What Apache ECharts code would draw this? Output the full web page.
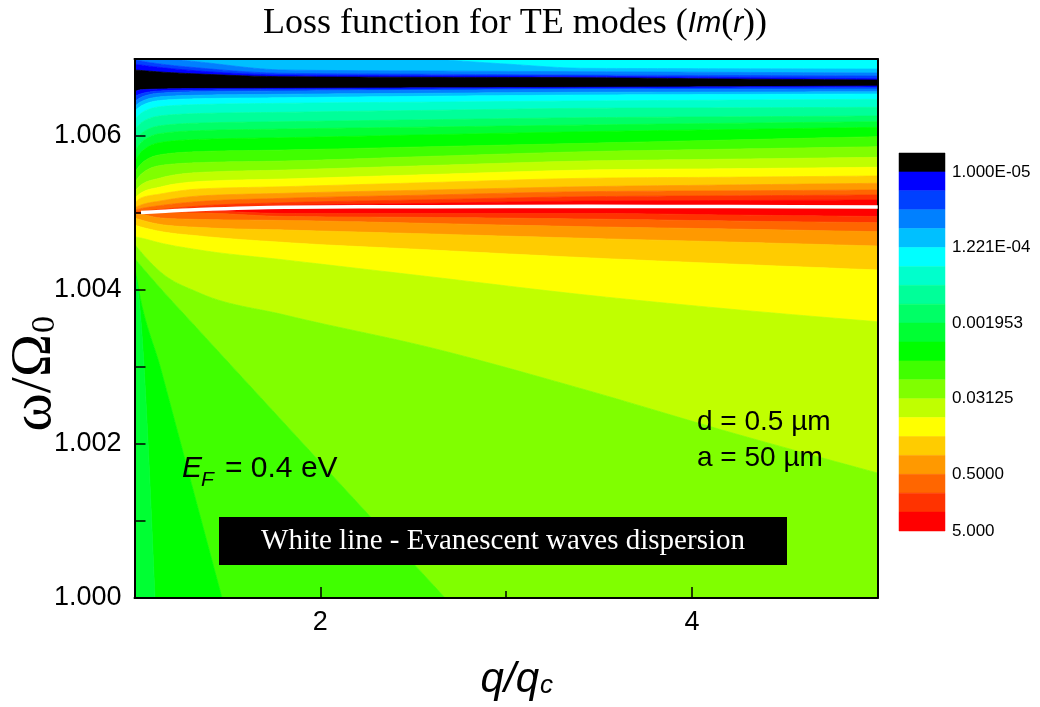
<!DOCTYPE html>
<html>
<head>
<meta charset="utf-8">
<title>Loss function for TE modes</title>
<script src="https://cdn.jsdelivr.net/npm/echarts@6.0.0/dist/echarts.min.js"></script>
<style>
  html, body { margin: 0; padding: 0; background: #ffffff; }
  #chart { width: 1040px; height: 707px; }
</style>
</head>
<body>
<div id="chart"></div>
<script>
// ---------------------------------------------------------------------
// Data
// ---------------------------------------------------------------------

// q/qc columns at which the contour boundaries are tabulated
const qCols = [1.0, 1.035, 1.14, 1.35, 1.81, 2.6, 3.43, 4.2, 5.0];

// contour fill colours, lowest level (top of the colour scale) to highest
const levelColors = [
  '#000000', '#0000ff', '#0040ff', '#0080ff', '#00c0ff',
  '#00ffff', '#00ffcc', '#00ff99', '#00ff66', '#00ff33',
  '#00ff00', '#40ff00', '#80ff00', '#c0ff00', '#ffff00',
  '#ffcc00', '#ff9900', '#ff6600', '#ff3300', '#ff0000'
];

// colour-scale labels and the level boundary each one sits on
const scaleLabelIndex = [1, 5, 9, 13, 17, 20];
const scaleLabels = ['1.000E-05', '1.221E-04', '0.001953', '0.03125', '0.5000', '5.000'];

// axis tick labels
const qTicks = [2, 4];
const qMinorTicks = [3];
const omegaTicks = [1.000, 1.002, 1.004, 1.006];

// contour boundaries above the black band, top to bottom
// (partial ones are [q, ω] polylines that start on the top frame)
const capT4 = [[2.6, 1.007], [3.0, 1.006935], [3.43, 1.006879], [4.2, 1.006874], [5.0, 1.006870]];
const capT3 = [[1.197, 1.007], [1.35, 1.006961], [1.81, 1.006857], [2.6, 1.006844], [3.43, 1.006835], [4.2, 1.006827], [5.0, 1.006818]];
const capT2 = [1.006994, 1.006974, 1.006935, 1.006883, 1.006814, 1.006803, 1.006792, 1.006786, 1.006779];
const capT1 = [1.006935, 1.006922, 1.006890, 1.006844, 1.006792, 1.006782, 1.006775, 1.006760, 1.006744];
const capT0 = [1.006857, 1.006851, 1.006831, 1.006805, 1.006770, 1.006762, 1.006757, 1.006740, 1.006727];

// contour boundaries between the black band and the dispersion line (ω at qCols), top to bottom
const upperContours = [
  [1.006575, 1.006601, 1.006610, 1.006617, 1.006619, 1.006626, 1.006632, 1.006640, 1.006649],
  [1.006510, 1.006548, 1.006586, 1.006597, 1.006604, 1.006612, 1.006619, 1.006625, 1.006630],
  [1.006445, 1.006501, 1.006557, 1.006575, 1.006584, 1.006595, 1.006606, 1.006608, 1.006610],
  [1.006381, 1.006445, 1.006509, 1.006530, 1.006542, 1.006555, 1.006568, 1.006571, 1.006575],
  [1.006316, 1.006388, 1.006461, 1.006484, 1.006497, 1.006516, 1.006532, 1.006539, 1.006545],
  [1.006208, 1.006295, 1.006382, 1.006409, 1.006425, 1.006440, 1.006455, 1.006466, 1.006477],
  [1.006078, 1.006170, 1.006262, 1.006292, 1.006308, 1.006334, 1.006360, 1.006366, 1.006373],
  [1.005926, 1.006030, 1.006134, 1.006168, 1.006186, 1.006212, 1.006238, 1.006249, 1.006260],
  [1.005796, 1.005914, 1.006032, 1.006070, 1.006091, 1.006117, 1.006143, 1.006165, 1.006186],
  [1.005666, 1.005791, 1.005916, 1.005956, 1.005978, 1.006017, 1.006056, 1.006084, 1.006113],
  [1.005516, 1.005636, 1.005757, 1.005797, 1.005818, 1.005861, 1.005905, 1.005948, 1.005991],
  [1.005386, 1.005501, 1.005617, 1.005654, 1.005675, 1.005736, 1.005796, 1.005829, 1.005861],
  [1.005277, 1.005364, 1.005455, 1.005526, 1.005558, 1.005617, 1.005675, 1.005699, 1.005723],
  [1.005191, 1.005260, 1.005338, 1.005409, 1.005442, 1.005500, 1.005558, 1.005575, 1.005594],
  [1.005126, 1.005195, 1.005247, 1.005312, 1.005342, 1.005396, 1.005451, 1.005465, 1.005481],
  [1.005069, 1.005104, 1.005156, 1.005221, 1.005256, 1.005299, 1.005342, 1.005364, 1.005386],
  [1.005039, 1.005058, 1.005097, 1.005149, 1.005191, 1.005234, 1.005277, 1.005288, 1.005299],
  [1.005006, 1.005019, 1.005045, 1.005091, 1.005134, 1.005173, 1.005212, 1.005223, 1.005234],
  [1.005000, 1.005006, 1.005026, 1.005058, 1.005095, 1.005126, 1.005156, 1.005162, 1.005169]
];

// contour boundaries below the dispersion line, top to bottom
// (the last three fan out and leave through the bottom frame)
const lowerContours = [
  [1.005000, 1.005000, 1.005013, 1.005026, 1.004994, 1.004994, 1.004994, 1.004974, 1.004955],
  [1.004997, 1.004997, 1.005003, 1.005000, 1.004955, 1.004942, 1.004922, 1.004896, 1.004874],
  [1.004987, 1.004981, 1.004935, 1.004916, 1.004903, 1.004864, 1.004822, 1.004792, 1.004757],
  [1.004935, 1.004909, 1.004851, 1.004812, 1.004779, 1.004727, 1.004671, 1.004623, 1.004571],
  [1.004844, 1.004818, 1.004760, 1.004701, 1.004617, 1.004519, 1.004419, 1.004338, 1.004260],
  [1.004692, 1.004675, 1.004610, 1.004519, 1.004390, 1.004169, 1.003935, 1.003753, 1.003588],
  [1.004597, 1.004494, 1.004234, 1.003961, 1.003675, 1.003247, 1.002701, 1.002156, 1.001623],
  [[1.0, 1.004416], [1.035, 1.004312], [1.1, 1.004130], [1.35, 1.003468], [1.81, 1.002260], [2.672, 1.0], [5.0, 1.0]],
  [[1.0, 1.004325], [1.013, 1.004130], [1.143, 1.002961], [1.35, 1.001091], [1.471, 1.0], [5.0, 1.0]],
  [[1.0, 1.004234], [1.011, 1.004130], [1.110, 1.0], [5.0, 1.0]]
];

// fill level of each band between consecutive boundaries, top to bottom
const bandLevels = [
  5, 4, 3, 2, 1, 0,
  1, 2, 3, 4, 5, 6, 7, 8, 9, 10, 11, 12, 13, 14, 15, 16, 17, 18,
  19,
  18, 17, 16, 15, 14, 13, 12, 11, 10, 9
];

// evanescent-wave dispersion curve (white line)
const dispersionQ = [1.035, 1.14, 1.35, 1.81, 2.6, 3.43, 4.2, 5.0];
const dispersionW = [1.005006, 1.005019, 1.005045, 1.005074, 1.005082, 1.005087, 1.005084, 1.005078];

// ---------------------------------------------------------------------
// Geometry helpers
// ---------------------------------------------------------------------
const Q_MIN = 1, Q_MAX = 5, W_MIN = 1.000, W_MAX = 1.007;
const toLine = e => (typeof e[0] === 'number' ? e.map((w, i) => [qCols[i], w]) : e);

// Monotone cubic (Fritsch–Carlson) curve through the tabulated points,
// so contour edges are drawn as smooth curves instead of kinked polylines.
function smoothCurve(pts, steps) {
  const n = pts.length;
  if (n < 3) return pts;
  const xs = pts.map(p => p[0]), ys = pts.map(p => p[1]);
  const h = [], s = [];
  for (let k = 0; k < n - 1; k++) {
    h[k] = xs[k + 1] - xs[k];
    s[k] = (ys[k + 1] - ys[k]) / h[k];
  }
  const m = new Array(n).fill(0);
  for (let k = 1; k < n - 1; k++) {
    const p = (s[k - 1] * h[k] + s[k] * h[k - 1]) / (h[k - 1] + h[k]);
    m[k] = (Math.sign(s[k - 1]) + Math.sign(s[k])) *
      Math.min(Math.abs(s[k - 1]), Math.abs(s[k]), 0.5 * Math.abs(p)) || 0;
  }
  const endSlope = (sk, mk) => {
    let t = (3 * sk - mk) / 2;
    if (Math.sign(t) !== Math.sign(sk)) t = 0;
    if (Math.abs(t) > 3 * Math.abs(sk)) t = 3 * sk;
    return t;
  };
  m[0] = endSlope(s[0], m[1]);
  m[n - 1] = endSlope(s[n - 2], m[n - 2]);
  const out = [pts[0]];
  for (let k = 0; k < n - 1; k++) {
    for (let j = 1; j <= steps; j++) {
      const t = j / steps, t2 = t * t, t3 = t2 * t;
      const h00 = 2 * t3 - 3 * t2 + 1, h10 = t3 - 2 * t2 + t;
      const h01 = -2 * t3 + 3 * t2, h11 = t3 - t2;
      out.push([
        xs[k] + t * h[k],
        h00 * ys[k] + h10 * h[k] * m[k] + h01 * ys[k + 1] + h11 * h[k] * m[k + 1]
      ]);
    }
  }
  return out;
}

// Smooth an edge; an edge that runs into the bottom frame is smoothed only
// up to where it meets the frame, then continues straight along it.
function edgeCurve(line) {
  const hit = line.findIndex(p => p[1] <= W_MIN);
  if (hit > 0 && hit < line.length - 1) {
    return smoothCurve(line.slice(0, hit + 1), 14).concat(line.slice(hit + 1));
  }
  return smoothCurve(line, 14);
}

const topEdge = [[Q_MIN, W_MAX], [Q_MAX, W_MAX]];
const bottomEdge = [[Q_MIN, W_MIN], [Q_MAX, W_MIN]];
const edges = [topEdge, capT4, capT3, capT2, capT1, capT0]
  .concat(upperContours, lowerContours, [bottomEdge])
  .map(toLine)
  .map(edgeCurve);

const SANS = 'Liberation Sans, Arial, sans-serif';
const SERIF = 'Liberation Serif, Times New Roman, serif';

const chart = echarts.init(document.getElementById('chart'), null, { renderer: 'canvas' });

const frameLine = { show: true, lineStyle: { color: '#000', width: 2 } };

chart.setOption({
  animation: false,
  backgroundColor: '#ffffff',
  grid: [
    { left: 134.5, top: 59, right: 162.3, bottom: 109, containLabel: false },
    { left: 899, top: 153, width: 46, height: 378, containLabel: false }
  ],
  xAxis: [
    {
      gridIndex: 0, type: 'value', min: Q_MIN, max: Q_MAX, interval: 1, position: 'bottom', z: 10,
      axisLine: frameLine,
      axisTick: { show: true, inside: true, length: 11, customValues: qTicks, lineStyle: { color: '#000', width: 1.5 } },
      axisLabel: {
        customValues: qTicks, formatter: v => String(v), margin: 11,
        fontSize: 27, fontFamily: SANS, color: '#000'
      },
      splitLine: { show: false }
    },
    {
      gridIndex: 0, type: 'value', min: Q_MIN, max: Q_MAX, interval: 1, position: 'bottom', z: 10,
      axisLine: { show: false },
      axisTick: { show: true, inside: true, length: 7, customValues: qMinorTicks, lineStyle: { color: '#000', width: 1.5 } },
      axisLabel: { show: false },
      splitLine: { show: false }
    },
    {
      gridIndex: 0, type: 'value', min: Q_MIN, max: Q_MAX, position: 'top', z: 10,
      axisLine: frameLine, axisTick: { show: false }, axisLabel: { show: false }, splitLine: { show: false }
    },
    { gridIndex: 1, type: 'value', min: 0, max: 1, show: false }
  ],
  yAxis: [
    {
      gridIndex: 0, type: 'value', min: W_MIN, max: W_MAX, interval: 0.001, position: 'left', z: 10,
      axisLine: frameLine,
      axisTick: { show: true, inside: true, length: 11, lineStyle: { color: '#000', width: 1.5 } },
      axisLabel: {
        customValues: omegaTicks, formatter: v => v.toFixed(3), margin: 13,
        fontSize: 27, fontFamily: SANS, color: '#000'
      },
      splitLine: { show: false }
    },
    {
      gridIndex: 0, type: 'value', min: W_MIN, max: W_MAX, position: 'right', z: 10,
      axisLine: frameLine, axisTick: { show: false }, axisLabel: { show: false }, splitLine: { show: false }
    },
    {
      gridIndex: 1, type: 'value', min: 0, max: levelColors.length, inverse: true, position: 'right',
      axisLine: { show: false }, axisTick: { show: false }, splitLine: { show: false },
      axisLabel: {
        customValues: scaleLabelIndex,
        formatter: v => scaleLabels[scaleLabelIndex.indexOf(Math.round(v))] || '',
        margin: 7, fontSize: 17, fontFamily: SANS, color: '#000'
      }
    }
  ],
  series: [
    {
      // filled contour bands
      type: 'custom',
      xAxisIndex: 0, yAxisIndex: 0,
      coordinateSystem: 'cartesian2d',
      clip: true,
      silent: true,
      z: 2,
      data: bandLevels,
      renderItem(params, api) {
        const i = params.dataIndex;
        const upper = edges[i].map(p => api.coord(p));
        const lower = edges[i + 1].slice().reverse().map(p => api.coord(p));
        const color = levelColors[bandLevels[i]];
        return {
          type: 'polygon',
          shape: { points: upper.concat(lower) },
          style: { fill: color, stroke: color, lineWidth: 0.7 }
        };
      }
    },
    {
      // white dispersion line
      type: 'line',
      xAxisIndex: 0, yAxisIndex: 0,
      data: dispersionQ.map((q, i) => [q, dispersionW[i]]),
      showSymbol: false,
      smooth: 0.3,
      clip: true,
      silent: true,
      z: 20,
      lineStyle: { color: '#ffffff', width: 3.5 }
    },
    {
      // colour scale
      type: 'custom',
      xAxisIndex: 3, yAxisIndex: 2,
      coordinateSystem: 'cartesian2d',
      silent: true,
      data: levelColors.map((c, i) => i),
      renderItem(params, api) {
        const i = params.dataIndex;
        const a = api.coord([0, i]);
        const b = api.coord([1, i + 1]);
        return {
          type: 'rect',
          shape: { x: a[0], y: Math.min(a[1], b[1]), width: b[0] - a[0], height: Math.abs(b[1] - a[1]) },
          style: { fill: levelColors[i], stroke: levelColors[i], lineWidth: 0.5 }
        };
      }
    }
  ],
  graphic: [
    {
      type: 'text', x: 515, y: 24, z: 100,
      style: {
        text: '{a|Loss function for TE modes }{b|(}{c|Im}{b|(}{c|r}{b|))}',
        align: 'center', verticalAlign: 'middle',
        rich: {
          a: { fontFamily: SERIF, fontSize: 36, fill: '#000' },
          b: { fontFamily: SERIF, fontSize: 36, fill: '#000' },
          c: { fontFamily: SANS, fontStyle: 'italic', fontSize: 30, fill: '#000' }
        }
      }
    },
    {
      // y-axis title ω/Ω0, reading bottom to top
      type: 'group', x: 35, y: 334, rotation: Math.PI / 2, z: 100,
      children: [
        { type: 'text', x: 0, y: 0, style: { text: 'ω/Ω', font: '58px ' + SERIF, fill: '#000', align: 'right', verticalAlign: 'middle' } },
        { type: 'text', x: 1, y: 10, style: { text: '0', font: '34px ' + SERIF, fill: '#000', align: 'left', verticalAlign: 'middle' } }
      ]
    },
    {
      type: 'text', x: 539, y: 680, z: 100,
      style: { text: 'q/q', font: 'italic 42px ' + SANS, fill: '#000', align: 'right', verticalAlign: 'middle' }
    },
    {
      type: 'text', x: 540, y: 686, z: 100,
      style: { text: 'c', font: 'italic 26px ' + SANS, fill: '#000', align: 'left', verticalAlign: 'middle' }
    },
    {
      type: 'text', x: 182, y: 469, z: 100,
      style: { text: 'E', font: 'italic 30px ' + SANS, fill: '#000', align: 'left', verticalAlign: 'middle' }
    },
    {
      type: 'text', x: 201, y: 480, z: 100,
      style: { text: 'F', font: 'italic 21px ' + SANS, fill: '#000', align: 'left', verticalAlign: 'middle' }
    },
    {
      type: 'text', x: 225, y: 469, z: 100,
      style: { text: '= 0.4 eV', font: '30px ' + SANS, fill: '#000', align: 'left', verticalAlign: 'middle' }
    },
    {
      type: 'text', x: 697, y: 422, z: 100,
      style: { text: 'd = 0.5 µm', font: '28px ' + SANS, fill: '#000', align: 'left', verticalAlign: 'middle' }
    },
    {
      type: 'text', x: 697, y: 458, z: 100,
      style: { text: 'a = 50 µm', font: '28px ' + SANS, fill: '#000', align: 'left', verticalAlign: 'middle' }
    },
    {
      type: 'rect', z: 100,
      shape: { x: 219, y: 517, width: 568, height: 48 },
      style: { fill: '#000' }
    },
    {
      type: 'text', x: 503, y: 541, z: 101,
      style: { text: 'White line - Evanescent waves dispersion', font: '29px ' + SERIF, fill: '#fff', align: 'center', verticalAlign: 'middle' }
    }
  ]
});
</script>
</body>
</html>
